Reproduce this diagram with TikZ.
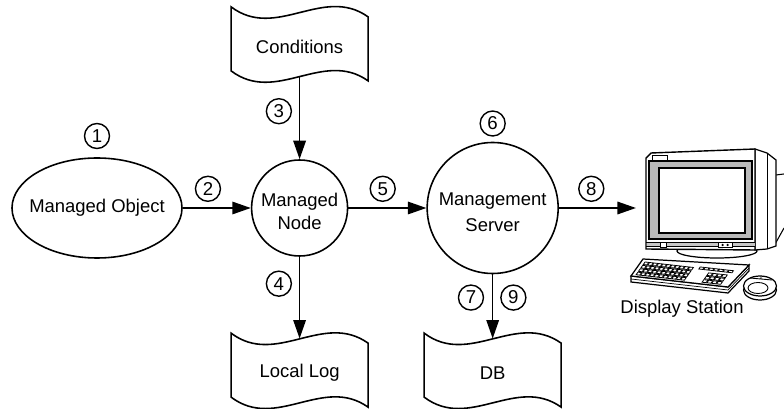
\documentclass[tikz,border=0pt]{standalone}
\usepackage{fontspec}
\setmainfont{Liberation Sans}
\usetikzlibrary{positioning,shapes.geometric,arrows.meta}
\newcommand{\nodefont}{\fontsize{10.5}{13}\selectfont}
\newcommand{\numfont}{\fontsize{10.6}{11}\selectfont}
\newcommand{\tapeoutline}[1]{%
	\draw[thickline] ([shift={(-1.37,0.8)}]#1.center) .. controls +(0.9,-0.68) and +(-0.9,0.64) .. ([shift={(1.37,0.6)}]#1.center)
		-- ([shift={(1.37,-0.68)}]#1.center) .. controls +(-0.9,0.64) and +(0.9,-0.68) .. ([shift={(-1.37,-0.48)}]#1.center) -- cycle;}

\begin{document}
\begin{tikzpicture}[
	thickline/.style={line width=0.9pt},
	obj/.style={ellipse, draw, thickline, minimum width=3.4cm, minimum height=2cm, inner xsep=-0.2cm, inner ysep=0pt, font=\nodefont},
	proc/.style={circle, draw, thickline, inner sep=0pt, align=center, font=\nodefont},
	tape/.style={rectangle, minimum width=2.74cm, minimum height=1.28cm, inner sep=0pt, font=\nodefont},
	num/.style={circle, draw, line width=0.8pt, minimum size=0.5cm, inner sep=0pt, font=\numfont},
	flow/.style={thickline, -{Triangle[length=0.37cm,width=0.25cm]}},
	totape/.style={shorten >=0.045cm},
	fromtape/.style={shorten <=-0.045cm},
	key/.style={line width=0.45pt, fill=white}]
	\useasboundingbox (0,0) rectangle (15.68,-8.18);

	\node[obj] (obj) at (1.94,-4.16) {Managed Object};
	\node[proc, minimum size=1.92cm, right=1.36cm of obj] (mnode) {\rule{0pt}{0.42cm}Managed\\Node};
	\node[proc, minimum size=2.62cm, right=1.56cm of mnode] (server) {\rule{0pt}{0.42cm}Management\\[2.2pt]Server};
	\node[tape, above=1.6cm of mnode] (cond) {Conditions};
	\node[tape, below=1.68cm of mnode] (log) {Local Log};
	\node[tape, below=1.33cm of server] (db) {DB};
	\coordinate[right=1.54cm of server] (scr);
	\node[font=\nodefont] (disp) at (13.64,-6.18) {Display Station};

	\tapeoutline{cond}
	\tapeoutline{log}
	\tapeoutline{db}

	\node[num, above=0.16cm of obj] (n1) {1};
	\node[num, above=0.1cm of server] (n6) {6};

	\draw[flow] (obj) -- node[num, pos=0.37, above=0.12cm] (n2) {2} (mnode);
	\draw[flow, fromtape] (cond) -- node[num, pos=0.4, left=0.15cm] (n3) {3} (mnode);
	\draw[flow, totape] (mnode) -- node[num, pos=0.32, left=0.15cm] (n4) {4} (log);
	\draw[flow] (mnode) -- node[num, pos=0.44, above=0.12cm] (n5) {5} (server);
	\draw[flow, totape] (server) -- node[num, pos=0.35, left=0.17cm] (n7) {7} node[num, pos=0.35, right=0.15cm] (n9) {9} (db);
	\draw[flow] (server) -- node[num, pos=0.42, above=0.12cm] (n8) {8} (scr);

	% display station
	\draw[line width=0.6pt] (15.52,-3.5) -- (15.68,-3.48);
	\draw[line width=0.6pt] (15.48,-4.92) -- (15.68,-4.56);
	\draw[line width=0.7pt, fill=white] (14.34,-5.02) ellipse (0.8cm and 0.14cm);
	\draw[line width=0.7pt, fill=white] (15.10,-2.98) -- (15.34,-3.06) -- (15.52,-3.2) -- (15.52,-4.92) -- (15.34,-4.98) -- (15.10,-5.0) -- cycle;
	\draw[line width=0.5pt] (15.34,-3.06) -- (15.34,-4.98);
	\draw[line width=0.8pt, fill=white] (12.92,-4.98) -- (12.92,-3.16) -- (13.02,-3.06) -- (15.10,-2.98) -- (15.10,-5.0) -- cycle;
	\draw[line width=0.5pt] (13.04,-3.1) rectangle (13.34,-3.2);
	\draw[line width=0.7pt, fill=gray!55] (12.98,-3.22) rectangle (15.04,-4.78);
	\draw[line width=1.2pt, fill=white] (13.18,-3.36) rectangle (14.9,-4.66);
	\fill[gray!45] (12.93,-4.84) rectangle (15.09,-4.92);
	\draw[line width=0.5pt] (12.92,-4.84) -- (15.10,-4.84) (12.92,-4.92) -- (15.10,-4.92);
	\draw[line width=0.5pt, fill=white] (13.2,-4.85) rectangle (13.32,-4.95);
	\draw[line width=0.5pt, fill=white] (14.36,-4.85) rectangle (14.64,-4.95);
	\fill (14.45,-4.9) circle (0.025) (14.55,-4.9) circle (0.025);

	\draw[line width=0.7pt, fill=white] (12.62,-5.52) -- (12.62,-5.64) -- (14.56,-5.86) -- (14.98,-5.42) -- (14.98,-5.3) -- (14.56,-5.74) -- cycle;
	\draw[line width=0.4pt] (12.62,-5.58) -- (14.56,-5.8) -- (14.98,-5.36);
	\draw[line width=0.7pt, fill=white] (12.86,-5.18) -- (14.98,-5.3) -- (14.56,-5.74) -- (12.62,-5.52) -- cycle;
	\begin{scope}[cm={1.94,-0.22,0.24,0.34,(12.62,-5.52)}]
		\foreach \i in {0,...,10}
			\foreach \j in {0,...,3}
				\draw[key] ({0.04+\i*0.046},{0.1+\j*0.2}) rectangle +(0.038,0.15);
		\foreach \i in {0,...,6}
			\draw[key] ({0.6+\i*0.05},0.8) rectangle +(0.042,0.12);
		\foreach \i in {0,...,3}
			\foreach \j in {0,...,2}
				\draw[key] ({0.72+\i*0.05},{0.1+\j*0.2}) rectangle +(0.042,0.15);
	\end{scope}

	\draw[line width=0.7pt, fill=white] (15.2,-5.8) ellipse (0.33cm and 0.2cm);
	\draw[line width=0.7pt, fill=white] (15.2,-5.72) ellipse (0.33cm and 0.2cm);
	\draw[line width=0.5pt] (15.16,-5.76) ellipse (0.2cm and 0.11cm);
	\draw[line width=0.5pt] (15.0,-5.56) -- (15.44,-5.6) (15.22,-5.53) -- (15.22,-5.58);
\end{tikzpicture}
\end{document}
